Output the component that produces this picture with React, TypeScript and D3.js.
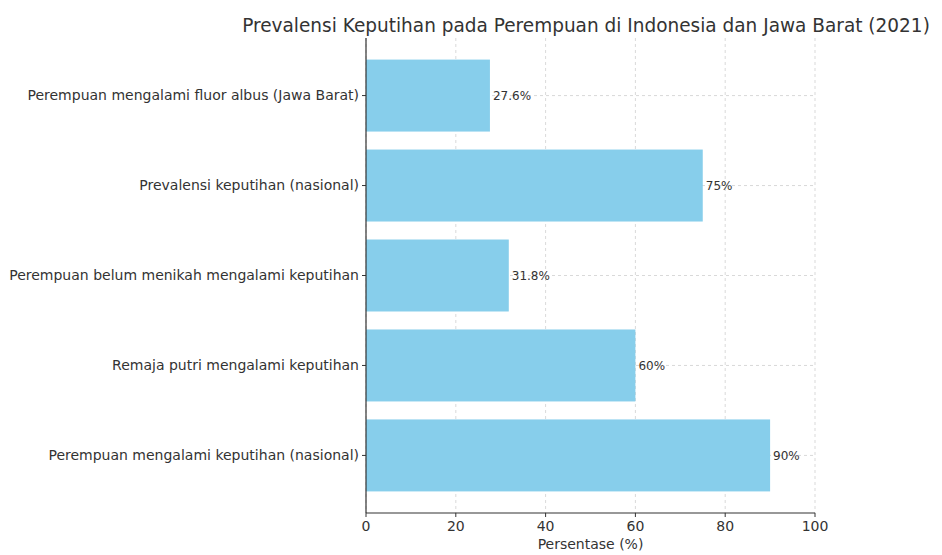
import React from "react";
import * as d3 from "d3";

const categories = [
  "Perempuan mengalami keputihan (nasional)",
  "Remaja putri mengalami keputihan",
  "Perempuan belum menikah mengalami keputihan",
  "Prevalensi keputihan (nasional)",
  "Perempuan mengalami fluor albus (Jawa Barat)",
];
const values = [90, 60, 31.8, 75, 27.6];
const valueLabels = ["90%", "60%", "31.8%", "75%", "27.6%"];
const xTicks = [0, 20, 40, 60, 80, 100];

const W = 942;
const H = 555;
const left = 366;
const right = 815;
const top = 38;
const bottom = 513;
const font = "'DejaVu Sans', sans-serif";
const textColor = "#333";

export default function App() {
  const x = d3.scaleLinear().domain([0, 100]).range([left, right]);
  const y = d3.scaleLinear().domain([-0.64, 4.64]).range([bottom, top]);
  const half = (y(0) - y(0.4));

  return (
    <svg width={W} height={H} style={{ position: "absolute", left: 0, top: 0 }}>
      <rect width={W} height={H} fill="#fff" />
      {/* grid */}
      {xTicks.map((t) => (
        <line key={"gx" + t} x1={x(t)} x2={x(t)} y1={top} y2={bottom}
          stroke="#cfcfcf" strokeWidth={0.8} strokeDasharray="3,3" />
      ))}
      {categories.map((c, i) => (
        <line key={"gy" + i} x1={left} x2={right} y1={y(i)} y2={y(i)}
          stroke="#cfcfcf" strokeWidth={0.8} strokeDasharray="3,3" />
      ))}
      {/* bars */}
      {values.map((v, i) => (
        <rect key={"b" + i} x={x(0)} y={y(i) - half} width={x(v) - x(0)} height={half * 2}
          fill="#87CEEB" />
      ))}
      {/* value labels */}
      {values.map((v, i) => (
        <text key={"v" + i} x={x(v) + 3} y={y(i)} dy="0.35em" fontSize={12}
          fontFamily={font} fill={textColor}>{valueLabels[i]}</text>
      ))}
      {/* spines */}
      <line x1={left} x2={left} y1={top} y2={bottom} stroke="#333" strokeWidth={1.2} />
      <line x1={left} x2={right} y1={bottom} y2={bottom} stroke="#333" strokeWidth={1.2} />
      {/* y ticks */}
      {categories.map((c, i) => (
        <g key={"yt" + i}>
          <line x1={left - 4} x2={left} y1={y(i)} y2={y(i)} stroke="#333" strokeWidth={1} />
          <text x={left - 7} y={y(i)} dy="0.35em" textAnchor="end" fontSize={14}
            fontFamily={font} fill={textColor}>{c}</text>
        </g>
      ))}
      {/* x ticks */}
      {xTicks.map((t) => (
        <g key={"xt" + t}>
          <line x1={x(t)} x2={x(t)} y1={bottom} y2={bottom + 4} stroke="#333" strokeWidth={1} />
          <text x={x(t)} y={bottom + 18} textAnchor="middle" fontSize={14}
            fontFamily={font} fill={textColor}>{t}</text>
        </g>
      ))}
      <text x={(left + right) / 2} y={549} textAnchor="middle" fontSize={14}
        fontFamily={font} fill={textColor}>Persentase (%)</text>
      <text transform="translate(586,32) scale(0.925,1)" x={0} y={0} textAnchor="middle" fontSize={20}
        fontFamily={font} fill={textColor}>Prevalensi Keputihan pada Perempuan di Indonesia dan Jawa Barat (2021)</text>
    </svg>
  );
}
